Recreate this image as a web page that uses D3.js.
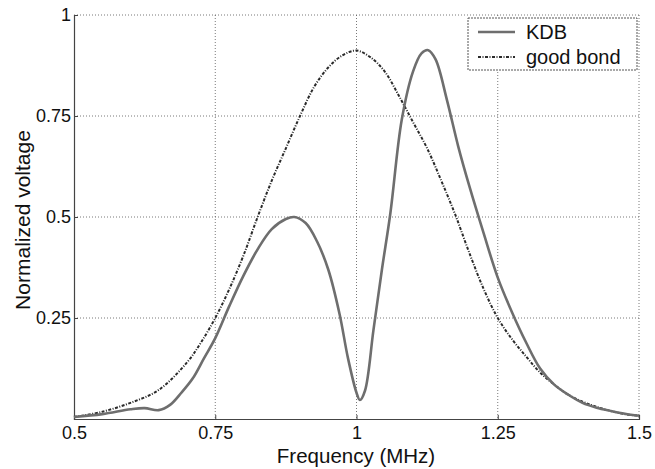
<!DOCTYPE html>
<html>
<head>
<meta charset="utf-8">
<script src="https://cdn.jsdelivr.net/npm/d3@7"></script>
<style>
  body { margin: 0; background: #fff; }
  text { font-family: "Liberation Sans", Arial, sans-serif; fill: #111; }
</style>
</head>
<body>
<div id="chart"></div>
<script>
// frequency (MHz) / normalized voltage
const kdbFreq = [0.5, 0.55, 0.6, 0.625, 0.65, 0.67, 0.69, 0.71, 0.73, 0.75, 0.775, 0.8, 0.825, 0.85, 0.875, 0.89, 0.91, 0.93, 0.95, 0.97, 0.985, 1.0, 1.006, 1.015, 1.03, 1.045, 1.06, 1.08, 1.1, 1.115, 1.127, 1.14, 1.16, 1.18, 1.2, 1.225, 1.25, 1.275, 1.3, 1.325, 1.35, 1.375, 1.4, 1.425, 1.45, 1.475, 1.5]
const kdbVolt = [0.005, 0.012, 0.024, 0.027, 0.022, 0.035, 0.065, 0.1, 0.15, 0.2, 0.28, 0.355, 0.42, 0.47, 0.495, 0.5, 0.485, 0.44, 0.37, 0.26, 0.15, 0.065, 0.047, 0.07, 0.22, 0.37, 0.51, 0.74, 0.86, 0.905, 0.913, 0.89, 0.79, 0.675, 0.575, 0.46, 0.35, 0.265, 0.19, 0.125, 0.085, 0.06, 0.04, 0.028, 0.02, 0.013, 0.008]

const goodFreq = [0.5, 0.55, 0.6, 0.65, 0.7, 0.725, 0.75, 0.775, 0.8, 0.825, 0.85, 0.875, 0.9, 0.925, 0.95, 0.975, 1.0, 1.025, 1.05, 1.075, 1.1, 1.125, 1.15, 1.175, 1.2, 1.225, 1.25, 1.275, 1.3, 1.325, 1.35, 1.375, 1.4, 1.425, 1.45, 1.475, 1.5]
const goodVolt = [0.005, 0.018, 0.04, 0.072, 0.14, 0.19, 0.25, 0.322, 0.405, 0.5, 0.59, 0.67, 0.75, 0.822, 0.87, 0.9, 0.912, 0.895, 0.86, 0.8, 0.735, 0.67, 0.59, 0.505, 0.41, 0.322, 0.25, 0.198, 0.155, 0.115, 0.085, 0.06, 0.043, 0.03, 0.02, 0.012, 0.008]

const xTicks = [0.5, 0.75, 1, 1.25, 1.5]
const yTicks = [0.25, 0.5, 0.75, 1]
const seriesNames = ["KDB", "good bond"]

const margin = { top: 15, right: 16, bottom: 50, left: 74 }
const W = 655, H = 469
const width = W - margin.left - margin.right
const height = H - margin.top - margin.bottom

const svg = d3.select("#chart").append("svg")
    .attr("width", W)
    .attr("height", H)

const g = svg.append("g")
    .attr("transform", `translate(${margin.left},${margin.top})`)

const x = d3.scaleLinear().domain([0.5, 1.5]).range([0, width])
const y = d3.scaleLinear().domain([0, 1]).range([height, 0])

// dotted grid
g.append("g").selectAll("line")
    .data(xTicks.slice(1))
    .join("line")
    .attr("x1", d => x(d)).attr("x2", d => x(d))
    .attr("y1", 0).attr("y2", height)
    .attr("stroke", "#555").attr("stroke-width", 0.8)
    .attr("stroke-dasharray", "1,2")

g.append("g").selectAll("line")
    .data(yTicks)
    .join("line")
    .attr("x1", 0).attr("x2", width)
    .attr("y1", d => y(d)).attr("y2", d => y(d))
    .attr("stroke", "#555").attr("stroke-width", 0.8)
    .attr("stroke-dasharray", "1,2")

// axes (left and bottom solid)
const xAxis = g.append("g")
    .attr("transform", `translate(0,${height})`)
    .call(d3.axisBottom(x).tickValues(xTicks).tickSize(-4).tickPadding(7).tickFormat(d3.format("")))
const yAxis = g.append("g")
    .call(d3.axisLeft(y).tickValues(yTicks).tickSize(-4).tickPadding(3).tickFormat(d3.format("")))

;[xAxis, yAxis].forEach(a => {
    a.select(".domain").attr("stroke", "#444").attr("stroke-width", 1.2)
    a.selectAll(".tick line").attr("stroke", "#444")
    a.selectAll("text").style("font-size", "18px").attr("fill", "#111")
})

// lines
const line = d3.line()
    .x(d => x(d[0]))
    .y(d => y(d[1]))
    .curve(d3.curveCatmullRom.alpha(0.5))

const kdb = kdbFreq.map((f, i) => [f, kdbVolt[i]])
const good = goodFreq.map((f, i) => [f, goodVolt[i]])

g.append("path")
    .datum(good)
    .attr("fill", "none")
    .attr("stroke", "#2a2a2a")
    .attr("stroke-width", 2)
    .attr("stroke-dasharray", "3,1.5,1,1.5")
    .attr("d", line)

g.append("path")
    .datum(kdb)
    .attr("fill", "none")
    .attr("stroke", "#6e6e6e")
    .attr("stroke-width", 2.6)
    .attr("d", line)

// axis titles
svg.append("text")
    .attr("x", 356)
    .attr("y", 463)
    .attr("text-anchor", "middle")
    .style("font-size", "20.5px")
    .text("Frequency (MHz)")

svg.append("text")
    .attr("transform", `translate(30,220) rotate(-90)`)
    .attr("text-anchor", "middle")
    .style("font-size", "21px")
    .text("Normalized voltage")

// legend
const lg = svg.append("g").attr("transform", "translate(468,18)")
lg.append("rect")
    .attr("width", 169).attr("height", 52)
    .attr("fill", "#fff")
    .attr("stroke", "#555").attr("stroke-width", 1)
    .attr("stroke-dasharray", "2,1")

const legendStyles = [
    { stroke: "#6e6e6e", width: 2.6, dash: null },
    { stroke: "#2a2a2a", width: 2, dash: "3,1.5,1,1.5" }
]
seriesNames.forEach((name, i) => {
    const yy = 14 + i * 25
    lg.append("line")
        .attr("x1", 10).attr("x2", 47)
        .attr("y1", yy).attr("y2", yy)
        .attr("stroke", legendStyles[i].stroke)
        .attr("stroke-width", legendStyles[i].width)
        .attr("stroke-dasharray", legendStyles[i].dash)
    lg.append("text")
        .attr("x", 58).attr("y", yy + 7)
        .style("font-size", "20px")
        .text(name)
})
</script>
</body>
</html>
